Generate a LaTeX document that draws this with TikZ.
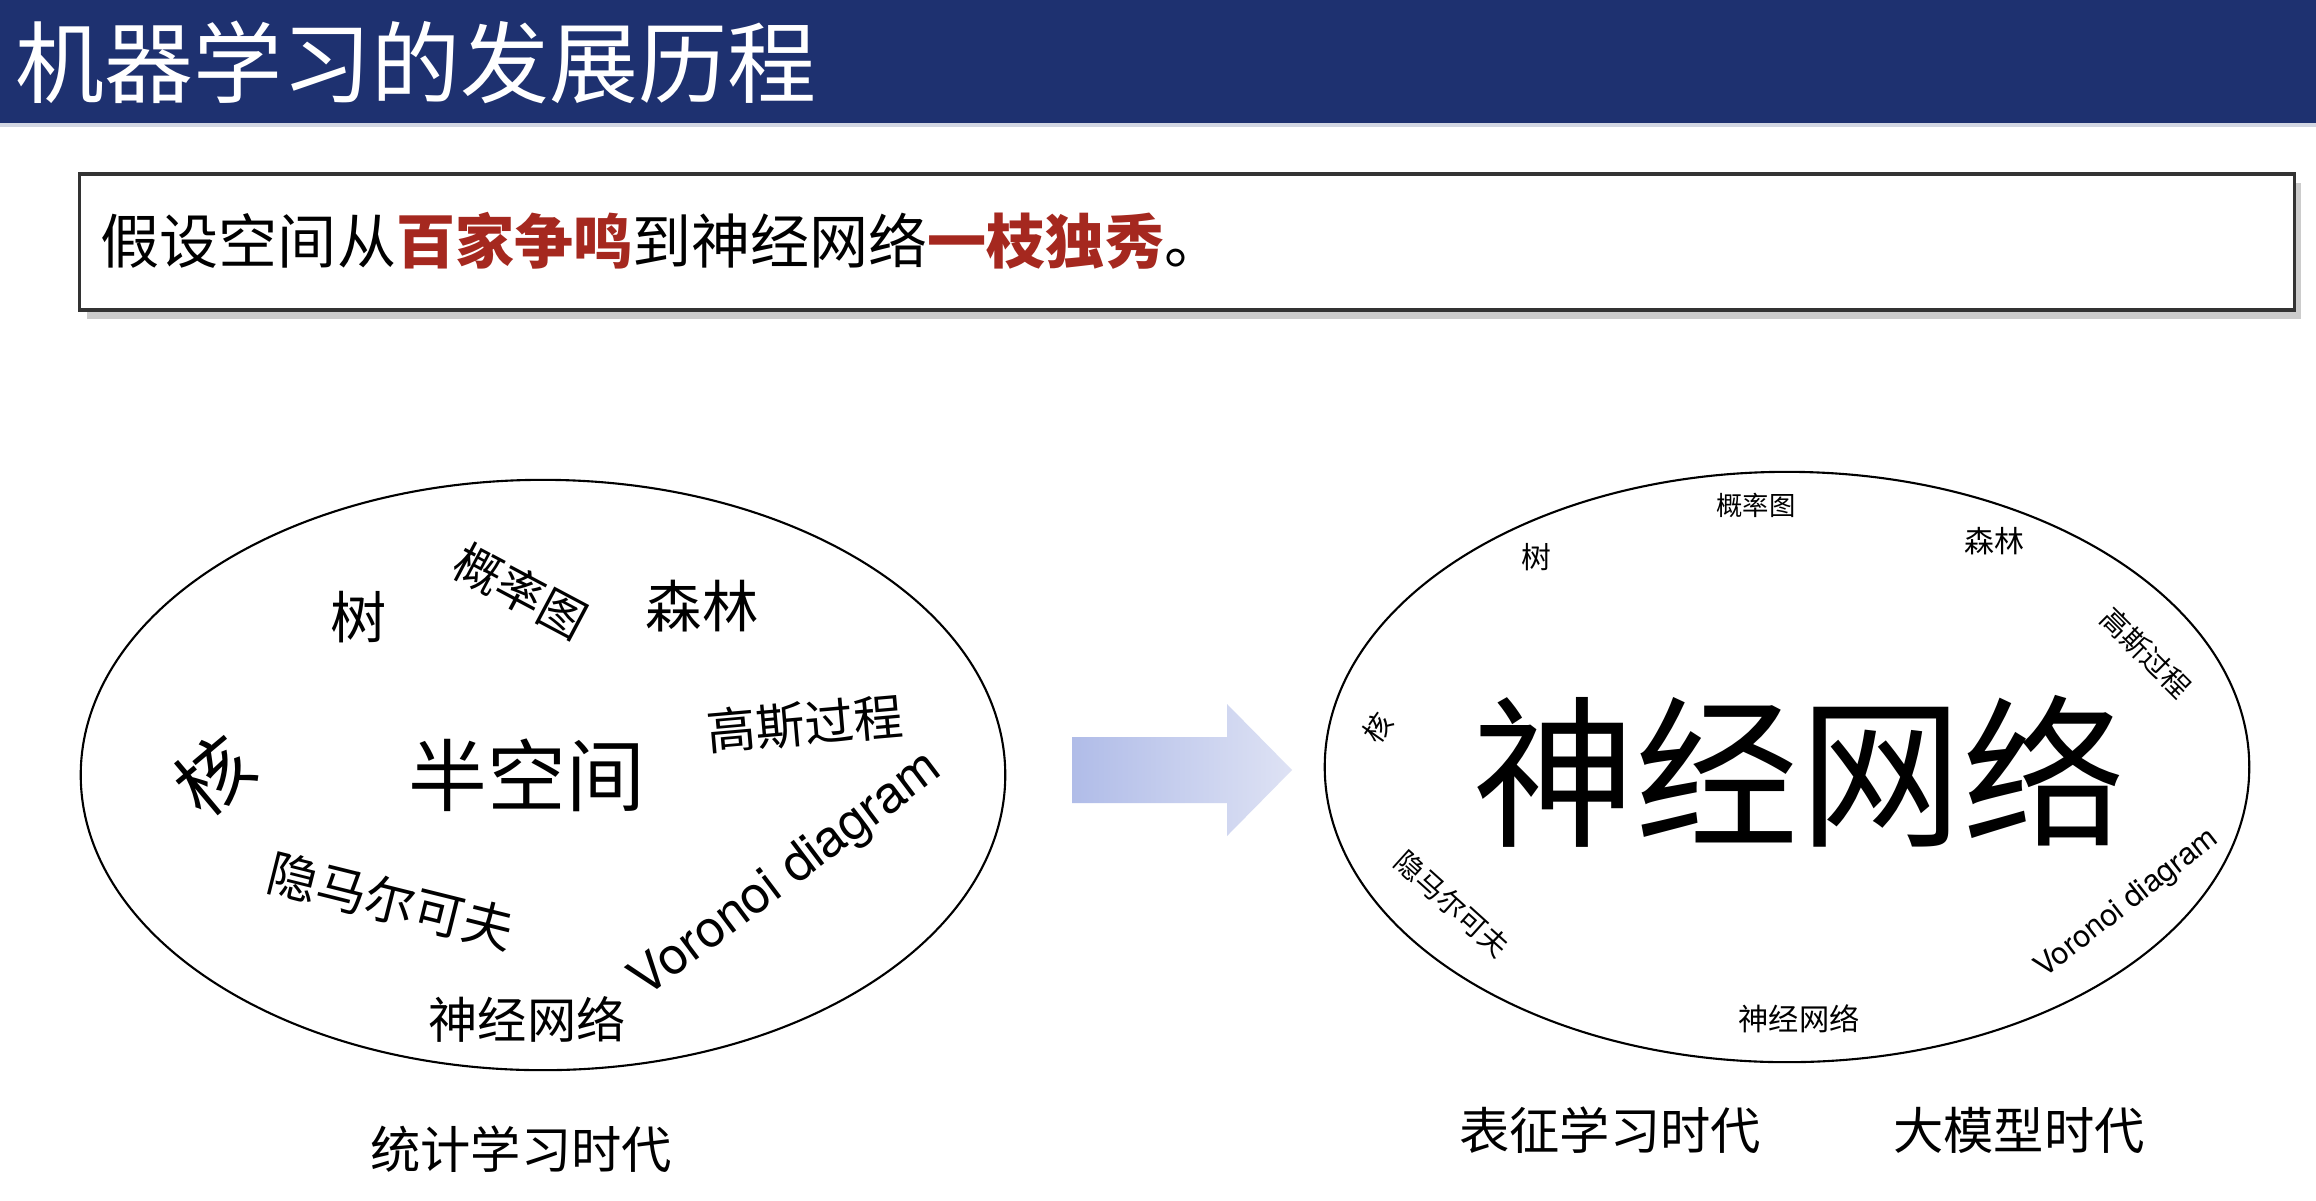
\documentclass[tikz,border=0pt]{standalone}
\usepackage{fontspec}
\setmainfont{TeX Gyre Heros}
\newfontfamily\cjk{Noto Sans CJK SC}
\usetikzlibrary{shapes.geometric,shadows}
\definecolor{bandblue}{RGB}{30,49,112}
\definecolor{keyred}{RGB}{165,40,31}
\definecolor{arrowdark}{RGB}{176,188,232}
\definecolor{arrowlight}{RGB}{222,226,244}
\newcommand{\zh}[1]{\cjk\fontsize{#1}{#1}\selectfont}
\newcommand{\latinsize}[1]{\fontsize{#1}{#1}\selectfont}
\tikzset{
  era/.style={draw,ellipse,line width=0.6pt,minimum width=9.24cm,minimum height=5.9cm,inner sep=0pt},
  word/.style={inner sep=0pt},
  claimbox/.style={draw=black!80,line width=0.9pt,fill=white,minimum width=22.13cm,minimum height=1.36cm,drop shadow={shadow xshift=2pt,shadow yshift=-2.5pt,opacity=0.4}}
}
\begin{document}
\begin{tikzpicture}[x=0.01cm,y=-0.01cm]
\path[use as bounding box,fill=white] (0,0) rectangle (2316,1200);
\fill[bandblue] (0,0) rectangle (2316,123);
\fill[bandblue!20] (0,123) rectangle (2316,127);
\node[word,anchor=west,text=white] (title) at (15,62) {\zh{25.3pt}机器学习的发展历程};
\node[claimbox] (claim) at (1187,242) {};
\node[word,anchor=west] (claimtext) at (100,241) {\zh{16.8pt}假设空间从\textbf{\color{keyred}百家争鸣}到神经网络\textbf{\color{keyred}一枝独秀}。};
\node[era] (stat) at (543,775) {};
\node[word] (tree1) at (359,617) {\zh{16pt}树};
\node[word,rotate=-28] (pgm1) at (521,591) {\zh{13.5pt}概率图};
\node[word] (forest1) at (702,606) {\zh{16pt}森林};
\node[word,rotate=5] (gp1) at (805,724) {\zh{14pt}高斯过程};
\node[word,rotate=40] (kernel1) at (214,775) {\zh{21pt}核};
\node[word] (half) at (527,775) {\zh{22.4pt}半空间};
\node[word,rotate=-14] (hmm1) at (391,901) {\zh{14.3pt}隐马尔可夫};
\node[word,rotate=37] (voronoi1) at (787,876) {\latinsize{14.6pt}Voronoi diagram};
\node[word] (nn1) at (527,1019) {\zh{14pt}神经网络};
\node[word] (statlab) at (521,1149) {\zh{14.3pt}统计学习时代};
\shade[left color=arrowdark,right color=arrowlight] (1072,737) -- (1227,737) -- (1227,704) -- (1292,770) -- (1227,836) -- (1227,803) -- (1072,803) -- cycle;
\node[era] (repr) at (1787,767) {};
\node[word] (pgm2) at (1756,505) {\zh{7.5pt}概率图};
\node[word] (tree2) at (1536,557) {\zh{8.5pt}树};
\node[word] (forest2) at (1994,541) {\zh{8.5pt}森林};
\node[word,rotate=-45] (gp2) at (2146,653) {\zh{8pt}高斯过程};
\node[word,rotate=55] (kernel2) at (1378,728) {\zh{8pt}核};
\node[word] (nnbig) at (1799,771) {\zh{46.4pt}神经网络};
\node[word,rotate=-42] (hmm2) at (1452,904) {\zh{8pt}隐马尔可夫};
\node[word,rotate=38] (voronoi2) at (2127,904) {\latinsize{8.7pt}Voronoi diagram};
\node[word] (nn2) at (1799,1019) {\zh{8.6pt}神经网络};
\node[word] (replab) at (1610,1130) {\zh{14.3pt}表征学习时代};
\node[word] (llmlab) at (2019,1130) {\zh{14.3pt}大模型时代};
\end{tikzpicture}
\end{document}
